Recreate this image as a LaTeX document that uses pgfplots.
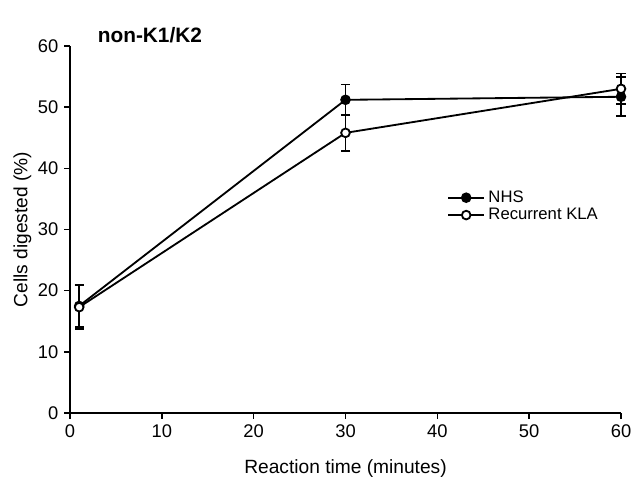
\documentclass[border=0pt]{standalone}
\usepackage{pgfplots}
\pgfplotsset{compat=1.18}
\usepackage{fontspec}
\setmainfont{Liberation Sans}
\begin{document}
\begin{tikzpicture}
\begin{axis}[
    name=ax,
    scale only axis,
    width=330.6pt, height=220.2pt,
    xmin=0, xmax=60, ymin=0, ymax=60,
    xtick={0,10,...,60}, ytick={0,10,...,60},
    axis lines=left,
    axis line style={-, line width=0.9pt},
    tick style={line width=0.9pt, black},
    tick align=outside,
    major tick length=3.5pt,
    /pgf/number format/assume math mode=true,
    ticklabel style={font=\fontsize{11}{13}\selectfont},
    label style={font=\fontsize{11.5}{13}\selectfont},
    xlabel={Reaction time (minutes)},
    ylabel={Cells digested (\%)},
    xlabel style={yshift=-6pt},
    ylabel style={yshift=-3pt},
    clip=false,
    legend style={draw=none, fill=none, at={(0.675,0.625)}, anchor=north west,
        font=\fontsize{10}{12}\selectfont, row sep=-2pt},
    legend cell align=left,
    legend image code/.code={
        \draw[mark repeat=2, mark phase=2, #1]
            plot coordinates {(0cm,0cm) (0.38cm,0cm) (0.76cm,0cm)};},
]
\addplot[black, line width=1.1pt, mark=*, mark size=2.6pt,
    mark options={fill=black, solid},
    error bars/.cd, y dir=both, y explicit,
    error bar style={line width=1.1pt},
    error mark options={rotate=90, mark size=2.8pt, line width=1.1pt}]
  table[x=x, y=y, y error=e] {
    x  y    e
    1  17.5 3.4
    30 51.2 2.5
    60 51.7 3.2
  };
\addlegendentry{NHS}
\addplot[black, line width=1.1pt, mark=*, mark size=2.6pt,
    mark options={fill=white, solid},
    error bars/.cd, y dir=both, y explicit,
    error bar style={line width=1.1pt},
    error mark options={rotate=90, mark size=2.8pt, line width=1.1pt}]
  table[x=x, y=y, y error=e] {
    x  y    e
    1  17.3 3.55
    30 45.8 2.9
    60 53.0 2.5
  };
\addlegendentry{Recurrent KLA}
\node[font=\fontsize{12.5}{14}\selectfont\bfseries] at ([yshift=6.6pt]rel axis cs:0.145,1) {non-K1/K2};
\end{axis}
\pgfresetboundingbox
\path[use as bounding box] ([xshift=-42pt,yshift=-37.8pt]ax.south west)
    rectangle ([xshift=6pt,yshift=27.6pt]ax.north east);
\end{tikzpicture}
\end{document}
